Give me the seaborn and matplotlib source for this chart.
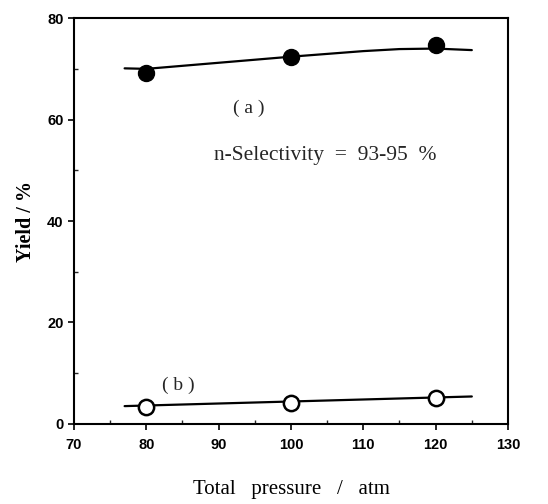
import matplotlib
matplotlib.use("Agg")
import matplotlib.pyplot as plt
import seaborn as sns
import pandas as pd
from matplotlib.ticker import MultipleLocator

# Data
pressure = [80, 100, 120]
yield_a = [69.2, 72.3, 74.7]
yield_b = [3.4, 4.1, 5.1]

# Hand-drawn trend curves
fit_x = [77, 80, 90, 100, 110, 115, 120, 125]
fit_a = [70.1, 70.0, 71.2, 72.4, 73.5, 73.9, 74.0, 73.7]
fit_b_x = [77, 125]
fit_b = [3.5, 5.4]

x_ticks = [70, 80, 90, 100, 110, 120, 130]
y_ticks = [0, 20, 40, 60, 80]

sns.set_theme(style="white")
plt.rcParams['font.family'] = ['DejaVu Sans']

fig = plt.figure(figsize=(5.48, 5.04), dpi=100)
ax = fig.add_axes([0.135, 0.159, 0.792, 0.805])

df_fit_a = pd.DataFrame({"x": fit_x, "y": fit_a})
df_fit_b = pd.DataFrame({"x": fit_b_x, "y": fit_b})
sns.lineplot(data=df_fit_a, x="x", y="y", ax=ax, color="black", lw=1.6, sort=False)
sns.lineplot(data=df_fit_b, x="x", y="y", ax=ax, color="black", lw=1.6, sort=False)

ax.plot(pressure, yield_a, 'o', color='black', markersize=11.5, zorder=5)
ax.plot(pressure, yield_b, 'o', markerfacecolor='white', markeredgecolor='black',
        markeredgewidth=1.8, markersize=11, zorder=5)

ax.set_xlim(70, 130)
ax.set_ylim(0, 80)
ax.set_xticks(x_ticks)
ax.set_yticks(y_ticks)
ax.xaxis.set_minor_locator(MultipleLocator(5))
ax.yaxis.set_minor_locator(MultipleLocator(10))
ax.tick_params(axis='both', which='major', direction='out', length=4, width=1.2,
               labelsize=10.5, colors='black', bottom=True, left=True)
ax.tick_params(axis='both', which='minor', direction='in', length=3, width=1,
               bottom=True, left=True)
for lab in ax.get_xticklabels() + ax.get_yticklabels():
    lab.set_fontweight('bold')
    lab.set_family('Liberation Sans')
ax.tick_params(axis='x', pad=6)

for s in ax.spines.values():
    s.set_color('black')
    s.set_linewidth(1.5)

ax.set_xlabel("Total   pressure   /   atm", family='Liberation Serif', fontsize=15,
              labelpad=20, color='black')
ax.set_ylabel("Yield / %", family='Liberation Serif', fontsize=14.5,
              fontweight='bold', labelpad=8, color='black')

ax.text(94.2, 62.3, "( a )", family='Liberation Serif', fontsize=14, ha='center', va='center')
ax.text(104.8, 53.0, "n-Selectivity  =  93-95  %", family='Liberation Serif',
        fontsize=15.5, ha='center', va='center')
ax.text(84.4, 7.6, "( b )", family='Liberation Serif', fontsize=14, ha='center', va='center')

fig.savefig("out.png", dpi=100)
